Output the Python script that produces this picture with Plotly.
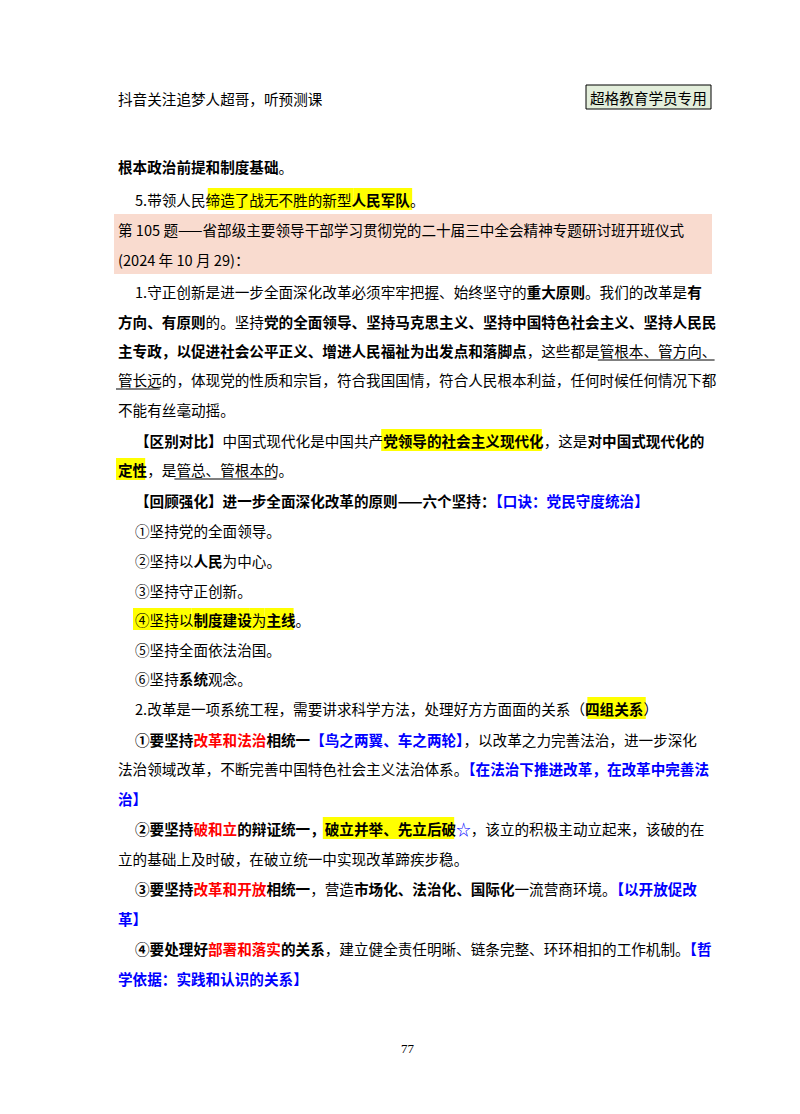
import unicodedata
import plotly.graph_objects as go

FONT = "Noto Sans CJK SC"
FS = 14.6
LEFT = 108
INDENT = 125

header_left = "抖音关注追梦人超哥，听预测课"
header_box = "超格教育学员专用"
page_no = "77"

# each line: (x start, y center, [(text, style)])  style: b bold, h highlight, r red, l blue, u underline
lines = [
    (LEFT, 158, [("根本政治前提和制度基础", "b"), ("。", "")]),
    (INDENT, 191, [("5.带领人民", ""), ("缔造了战无不胜的新型", "h"), ("人民军队", "hb"), ("。", "")]),
    (LEFT, 221, [("第 105 题——省部级主要领导干部学习贯彻党的二十届三中全会精神专题研讨班开班仪式", "")]),
    (LEFT, 251, [("(2024 年 10 月 29)：", "")]),
    (INDENT, 283, [("1.守正创新是进一步全面深化改革必须牢牢把握、始终坚守的", ""), ("重大原则", "b"),
                   ("。我们的改革是", ""), ("有", "b")]),
    (LEFT, 313, [("方向、有原则", "b"), ("的。坚持", ""), ("党的全面领导、坚持马克思主义、坚持中国特色社会主义、坚持人民民", "b")]),
    (LEFT, 342, [("主专政，以促进社会公平正义、增进人民福祉为出发点和落脚点", "b"), ("，这些都是", ""), ("管根本、管方向、", "u")]),
    (LEFT, 371, [("管长远", "u"), ("的，体现党的性质和宗旨，符合我国国情，符合人民根本利益，任何时候任何情况下都", "")]),
    (LEFT, 401, [("不能有丝毫动摇。", "")]),
    (INDENT, 432, [("【区别对比】", "b"), ("中国式现代化是中国共产", ""), ("党领导的社会主义现代化", "hb"),
                   ("，这是", ""), ("对中国式现代化的", "b")]),
    (LEFT, 461, [("定性", "hb"), ("，是", ""), ("管总、管根本的", "u"), ("。", "")]),
    (INDENT, 492, [("【回顾强化】进一步全面深化改革的原则——六个坚持：", "b"), ("【口诀：党民守度统治】", "lb")]),
    (INDENT, 522, [("①坚持党的全面领导。", "")]),
    (INDENT, 552, [("②坚持以", ""), ("人民", "b"), ("为中心。", "")]),
    (INDENT, 582, [("③坚持守正创新。", "")]),
    (INDENT, 611, [("④坚持以", "h"), ("制度建设", "hb"), ("为", "h"), ("主线", "hb"), ("。", "")]),
    (INDENT, 641, [("⑤坚持全面依法治国。", "")]),
    (INDENT, 670, [("⑥坚持", ""), ("系统", "b"), ("观念。", "")]),
    (INDENT, 700, [("2.改革是一项系统工程，需要讲求科学方法，处理好方方面面的关系（", ""), ("四组关系", "hb"), ("）", "")]),
    (INDENT, 731, [("①要坚持", "b"), ("改革和法治", "rb"), ("相统一", "b"), ("【鸟之两翼、车之两轮】", "lb"),
                   ("，以改革之力完善法治，进一步深化", "")]),
    (LEFT, 760, [("法治领域改革，不断完善中国特色社会主义法治体系。", ""), ("【在法治下推进改革，在改革中完善法", "lb")]),
    (LEFT, 790, [("治】", "lb")]),
    (INDENT, 820, [("②要坚持", "b"), ("破和立", "rb"), ("的辩证统一，", "b"), ("破立并举、先立后破", "hb"),
                   ("☆", "l"), ("，该立的积极主动立起来，该破的在", "")]),
    (LEFT, 850, [("立的基础上及时破，在破立统一中实现改革蹄疾步稳。", "")]),
    (INDENT, 880, [("③要坚持", "b"), ("改革和开放", "rb"), ("相统一", "b"), ("，营造", ""), ("市场化、法治化、国际化", "b"),
                   ("一流营商环境。", ""), ("【以开放促改", "lb")]),
    (LEFT, 910, [("革】", "lb")]),
    (INDENT, 940, [("④要处理好", "b"), ("部署和落实", "rb"), ("的关系", "b"),
                   ("，建立健全责任明晰、链条完整、环环相扣的工作机制。", ""), ("【哲", "lb")]),
    (LEFT, 970, [("学依据：实践和认识的关系】", "lb")]),
]


def text_width(s):
    w = 0
    for ch in s:
        if unicodedata.east_asian_width(ch) in ("W", "F", "A"):
            w += FS
        elif ch == " ":
            w += FS * 0.28
        else:
            w += FS * 0.56
    return w


fig = go.Figure()
shapes = []
annotations = []

# pink question band
shapes.append(dict(type="rect", x0=LEFT - 2, x1=704, y0=206, y1=266, fillcolor="#f9dbcf",
                   line=dict(width=0), layer="below"))

for x0, y, segs in lines:
    html = ""
    x = x0
    for txt, st in segs:
        w = text_width(txt)
        if "h" in st:
            shapes.append(dict(type="rect", x0=x, x1=x + w, y0=y - 11, y1=y + 11,
                               fillcolor="#ffff00", line=dict(width=0), layer="below"))
        if "u" in st:
            shapes.append(dict(type="line", x0=x, x1=x + w, y0=y + 10, y1=y + 10,
                               line=dict(color="#000000", width=1)))
        color = "#ff0000" if "r" in st else ("#0000ff" if "l" in st else "#000000")
        piece = f"<span style='color:{color}'>{txt}</span>"
        if "b" in st:
            piece = f"<b>{piece}</b>"
        html += piece
        x += w
    annotations.append(dict(x=x0, y=y, text=html, xanchor="left", yanchor="middle",
                            showarrow=False, font=dict(family=FONT, size=FS, color="#000000")))

# header
annotations.append(dict(x=LEFT, y=90, text=header_left, xanchor="left", yanchor="middle",
                        showarrow=False, font=dict(family=FONT, size=FS, color="#000000")))
shapes.append(dict(type="rect", x0=578, x1=703, y0=77, y1=101, fillcolor="#e3eedb",
                   line=dict(color="#000000", width=1)))
annotations.append(dict(x=640.5, y=89, text=header_box, xanchor="center", yanchor="middle",
                        showarrow=False, font=dict(family=FONT, size=FS, color="#000000")))
annotations.append(dict(x=400, y=1040, text=page_no, xanchor="center", yanchor="middle",
                        showarrow=False, font=dict(family="Liberation Serif", size=13, color="#000000")))

fig.update_layout(
    width=800, height=1114,
    margin=dict(l=0, r=0, t=0, b=0),
    paper_bgcolor="white", plot_bgcolor="white",
    xaxis=dict(range=[0, 800], visible=False, fixedrange=True),
    yaxis=dict(range=[1114, 0], visible=False, fixedrange=True),
    shapes=shapes, annotations=annotations, showlegend=False,
)
fig.write_html("out.html")
